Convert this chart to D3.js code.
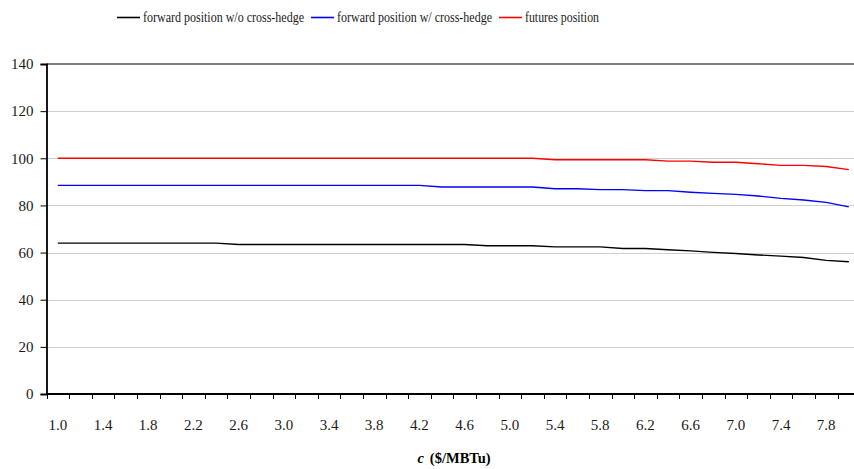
<!DOCTYPE html>
<html>
<head>
<meta charset="utf-8">
<script src="https://cdn.jsdelivr.net/npm/d3@7"></script>
<style>
  html, body { margin: 0; padding: 0; background: #fff; }
  svg { display: block; }
</style>
</head>
<body>
<svg id="chart" width="854" height="469" font-family="Liberation Serif"></svg>
<script>
// Hedge price c ($/MBTu), one category per 0.2 step
const categories = ["1.0","1.2","1.4","1.6","1.8","2.0","2.2","2.4","2.6","2.8",
                    "3.0","3.2","3.4","3.6","3.8","4.0","4.2","4.4","4.6","4.8",
                    "5.0","5.2","5.4","5.6","5.8","6.0","6.2","6.4","6.6","6.8",
                    "7.0","7.2","7.4","7.6","7.8","8.0"];
const xTickLabels = ["1.0","1.4","1.8","2.2","2.6","3.0","3.4","3.8","4.2","4.6",
                     "5.0","5.4","5.8","6.2","6.6","7.0","7.4","7.8"];
const yTicks = [0, 20, 40, 60, 80, 100, 120, 140];

const forwardNoCross = [64.0,64.0,64.0,64.0,64.0,64.0,64.0,64.0,63.4,63.4,
                        63.4,63.4,63.4,63.4,63.4,63.4,63.4,63.4,63.4,62.9,
                        62.9,62.9,62.4,62.4,62.4,61.7,61.7,61.2,60.7,60.1,
                        59.6,59.0,58.5,57.9,56.7,56.1];
const forwardCross   = [88.5,88.5,88.5,88.5,88.5,88.5,88.5,88.5,88.5,88.5,
                        88.5,88.5,88.5,88.5,88.5,88.5,88.5,87.8,87.8,87.8,
                        87.8,87.8,87.1,87.1,86.7,86.7,86.3,86.3,85.6,85.1,
                        84.7,84.0,83.0,82.3,81.3,79.4];
const futures        = [100,100,100,100,100,100,100,100,100,100,
                        100,100,100,100,100,100,100,100,100,100,
                        100,100,99.4,99.4,99.4,99.4,99.4,98.8,98.8,98.3,
                        98.3,97.7,97.0,97.0,96.5,95.2];

const seriesNames  = ["forward position w/o cross-hedge", "forward position w/ cross-hedge", "futures position"];
const seriesColors = ["#000000", "#0000ff", "#ff0000"];
const seriesValues = [forwardNoCross, forwardCross, futures];

const FONT = "Liberation Serif";
const svg = d3.select("#chart");

const plotLeft = 46.5, plotTop = 64, plotBottom = 394, plotRight = 854;
const band = 22.6;
const x = d3.scaleBand().domain(categories).range([plotLeft, plotLeft + band * categories.length]).padding(0);
const y = d3.scaleLinear().domain([0, 140]).range([plotBottom, plotTop]);

// horizontal gridlines
svg.append("g").selectAll("line")
  .data(yTicks.filter(d => d > 0 && d < 140))
  .join("line")
  .attr("x1", plotLeft).attr("x2", plotRight)
  .attr("y1", d => Math.round(y(d)) + 0.5).attr("y2", d => Math.round(y(d)) + 0.5)
  .attr("stroke", "#cfcfcf").attr("stroke-width", 1);

// top border of the plot area
svg.append("line")
  .attr("x1", plotLeft).attr("x2", plotRight)
  .attr("y1", y(140)).attr("y2", y(140))
  .attr("stroke", "#000").attr("stroke-width", 1.2);

// y axis
const yAxis = d3.axisLeft(y).tickValues(yTicks).tickSize(6).tickPadding(7).tickFormat(d3.format("d"));
const gy = svg.append("g").attr("transform", `translate(${plotLeft},0)`).call(yAxis)
  .attr("font-family", FONT).attr("font-size", 15);
gy.select(".domain").attr("stroke", "#000").attr("stroke-width", 1.8);
gy.selectAll(".tick line").attr("stroke", "#000").attr("stroke-width", 1);
gy.selectAll(".tick text").attr("fill", "#1a1a1a");

// x axis: tick marks on category boundaries, labels on every other category
const gx = svg.append("g").attr("font-family", FONT).attr("font-size", 15);
gx.append("line")
  .attr("x1", plotLeft).attr("x2", plotRight)
  .attr("y1", plotBottom).attr("y2", plotBottom)
  .attr("stroke", "#000").attr("stroke-width", 2);
const boundaries = categories.map(c => x(c)).concat([x(categories[categories.length - 1]) + x.bandwidth()]);
gx.selectAll("line.tick")
  .data(boundaries.filter(b => b < plotRight))
  .join("line").attr("class", "tick")
  .attr("x1", d => Math.round(d) + 0.5).attr("x2", d => Math.round(d) + 0.5)
  .attr("y1", plotBottom).attr("y2", plotBottom + 5)
  .attr("stroke", "#000").attr("stroke-width", 1);
gx.selectAll("text")
  .data(xTickLabels)
  .join("text")
  .attr("x", d => x(d) + x.bandwidth() / 2)
  .attr("y", 430)
  .attr("text-anchor", "middle")
  .attr("fill", "#1a1a1a")
  .text(d => d);

// axis title
const title = svg.append("text")
  .attr("x", 454).attr("y", 463)
  .attr("text-anchor", "middle")
  .attr("font-family", FONT).attr("font-size", 14.5).attr("font-weight", "bold");
title.append("tspan").attr("font-style", "italic").text("c");
title.append("tspan").attr("dx", 6).text("($/MBTu)");

// series lines
const line = d3.line()
  .x((d, i) => x(categories[i]) + x.bandwidth() / 2)
  .y(d => y(d));
svg.append("g").selectAll("path")
  .data(seriesValues)
  .join("path")
  .attr("d", d => line(d))
  .attr("fill", "none")
  .attr("stroke", (d, i) => seriesColors[i])
  .attr("stroke-width", 1.4);

// legend: swatch start, text start and text width per entry
const legendPos = [{ lx: 117, tx: 143, w: 161 }, { lx: 311, tx: 337, w: 155 }, { lx: 499, tx: 525, w: 74 }];
const lg = svg.append("g").attr("font-family", FONT).attr("font-size", 14);
seriesNames.forEach((name, i) => {
  lg.append("line")
    .attr("x1", legendPos[i].lx).attr("x2", legendPos[i].lx + 23)
    .attr("y1", 17.5).attr("y2", 17.5)
    .attr("stroke", seriesColors[i]).attr("stroke-width", 1.6);
  lg.append("text")
    .attr("x", legendPos[i].tx).attr("y", 22)
    .attr("fill", "#1a1a1a")
    .attr("textLength", legendPos[i].w)
    .attr("lengthAdjust", "spacingAndGlyphs")
    .text(name);
});
</script>
</body>
</html>
